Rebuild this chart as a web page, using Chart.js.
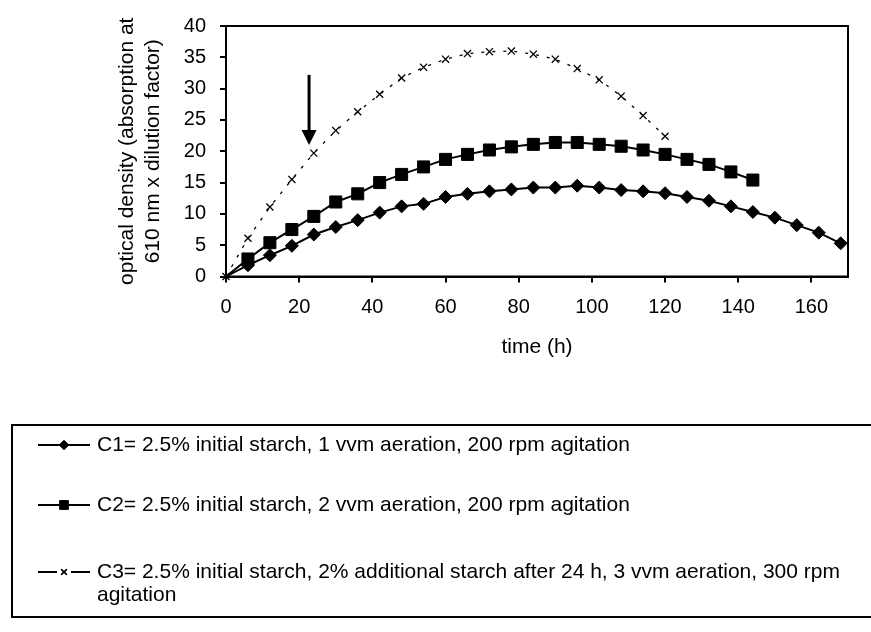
<!DOCTYPE html>
<html>
<head>
<meta charset="utf-8">
<title>Optical density vs time</title>
<script src="https://cdn.jsdelivr.net/npm/chart.js@4.4.1/dist/chart.umd.min.js"></script>
<style>
  html, body { margin: 0; padding: 0; background: #fff; }
  #wrap { width: 871px; height: 632px; position: relative; }
</style>
</head>
<body>
<div id="wrap"><canvas id="chart"></canvas></div>
<script>
// sampling times (h), every 6 h
const times = [0, 6, 12, 18, 24, 30, 36, 42, 48, 54, 60, 66, 72, 78, 84, 90, 96,
  102, 108, 114, 120, 126, 132, 138, 144, 150, 156, 162, 168];

// optical density (absorption at 610 nm x dilution factor)
const c1 = [0, 1.8, 3.4, 4.9, 6.7, 7.9, 9.0, 10.2, 11.2, 11.6, 12.7, 13.2, 13.6, 13.9, 14.2,
  14.2, 14.5, 14.2, 13.8, 13.6, 13.3, 12.7, 12.1, 11.2, 10.3, 9.4, 8.2, 7.0, 5.3];
const c2 = [0, 2.8, 5.4, 7.5, 9.6, 11.9, 13.2, 15.0, 16.3, 17.5, 18.7, 19.5, 20.2, 20.7, 21.1,
  21.4, 21.4, 21.1, 20.8, 20.2, 19.5, 18.7, 17.9, 16.7, 15.4];
const c3 = [0, 6.1, 11.1, 15.5, 19.7, 23.3, 26.3, 29.1, 31.7, 33.4, 34.7, 35.6, 35.9, 36.0,
  35.5, 34.7, 33.2, 31.4, 28.8, 25.7, 22.4];

const seriesLabels = [
  "C1= 2.5% initial starch, 1 vvm aeration, 200 rpm agitation",
  "C2= 2.5% initial starch, 2 vvm aeration, 200 rpm agitation",
  "C3= 2.5% initial starch, 2% additional starch after 24 h, 3 vvm aeration, 300 rpm agitation"
];
const yTitle = ["optical density (absorption at", "610 nm x dilution factor)"];
const xTitle = "time (h)";

// arrow marking the starch addition (time, from-value, to-value)
const arrowAt = 22.7;
const arrowFrom = 32.2;
const arrowTo = 21;

const FONT = "Liberation Sans, Arial, sans-serif";
const tickSize = 20;
const textSize = 21;

function pts(values) {
  return values.map((v, i) => ({ x: times[i], y: v }));
}

const styles = [
  { pointStyle: "rectRot", pointRadius: 6.5, borderWidth: 2, borderDash: [] },
  { pointStyle: "rect", pointRadius: 8.5, borderWidth: 2, borderDash: [] },
  { pointStyle: "crossRot", pointRadius: 5, borderWidth: 1.3, borderDash: [3, 8] }
];

const datasets = [c1, c2, c3].map((vals, i) => ({
  label: seriesLabels[i],
  data: pts(vals),
  showLine: true,
  borderColor: "#000",
  backgroundColor: "#000",
  borderWidth: styles[i].borderWidth,
  borderDash: styles[i].borderDash,
  pointStyle: styles[i].pointStyle,
  // the origin point of C1/C2 sits under the C3 cross, no marker there
  pointRadius: ctx => (i < 2 && ctx.dataIndex === 0) ? 0 : styles[i].pointRadius,
  pointBorderWidth: i === 2 ? 1.3 : 1,
  pointBorderColor: "#000",
  pointBackgroundColor: "#000",
  tension: 0,
  clip: i === 2 ? false : undefined,
  order: 2 - i
}));

// plot frame under the series, then arrow, rotated y title and the boxed legend
const extras = {
  id: "extras",
  beforeDatasetsDraw(chart) {
    const ctx = chart.ctx;
    const a = chart.chartArea;
    ctx.save();
    ctx.strokeStyle = "#000";
    ctx.lineWidth = 2;
    ctx.strokeRect(a.left, a.top, a.right - a.left, a.bottom - a.top);
    ctx.restore();
  },
  afterDraw(chart) {
    const ctx = chart.ctx;
    const a = chart.chartArea;
    const xs = chart.scales.x, ys = chart.scales.y;
    ctx.save();
    ctx.strokeStyle = "#000";

    // arrow
    const ax = xs.getPixelForValue(arrowAt);
    const y0 = ys.getPixelForValue(arrowFrom);
    const y1 = ys.getPixelForValue(arrowTo);
    ctx.lineWidth = 3;
    ctx.beginPath();
    ctx.moveTo(ax, y0);
    ctx.lineTo(ax, y1 - 12);
    ctx.stroke();
    ctx.fillStyle = "#000";
    ctx.beginPath();
    ctx.moveTo(ax - 7.5, y1 - 15);
    ctx.lineTo(ax + 7.5, y1 - 15);
    ctx.lineTo(ax, y1);
    ctx.closePath();
    ctx.fill();

    // y axis title
    ctx.font = textSize + "px " + FONT;
    ctx.textAlign = "center";
    ctx.textBaseline = "middle";
    ctx.save();
    ctx.translate(127, (a.top + a.bottom) / 2);
    ctx.rotate(-Math.PI / 2);
    ctx.fillText(yTitle[0], 0, 0);
    ctx.fillText(yTitle[1], 0, 26);
    ctx.restore();

    // legend box
    ctx.lineWidth = 2;
    ctx.strokeRect(12, 425, 870, 192);
    const rows = [445, 505, 572];
    ctx.textAlign = "left";
    chart.data.datasets.forEach((ds, i) => {
      const y = rows[i];
      ctx.lineWidth = 2;
      ctx.beginPath();
      if (i === 2) {
        ctx.moveTo(38, y); ctx.lineTo(57, y);
        ctx.moveTo(71, y); ctx.lineTo(90, y);
      } else {
        ctx.moveTo(38, y); ctx.lineTo(90, y);
      }
      ctx.stroke();
      ctx.lineWidth = i === 2 ? 1.3 : 1;
      Chart.helpers.drawPoint(ctx, {
        pointStyle: ds.pointStyle,
        radius: i === 0 ? 4.5 : (i === 1 ? 6 : 4),
        rotation: 0,
        borderWidth: ctx.lineWidth
      }, 64, y);
      ctx.fill();
      ctx.stroke();
      if (i === 2) {
        const cut = ds.label.lastIndexOf(" agitation");
        ctx.fillText(ds.label.slice(0, cut), 97, y);
        ctx.fillText(ds.label.slice(cut + 1), 97, y + 23);
      } else {
        ctx.fillText(ds.label, 97, y);
      }
    });
    ctx.restore();
  }
};

new Chart(document.getElementById("chart"), {
  type: "scatter",
  data: { datasets },
  options: {
    responsive: true,
    maintainAspectRatio: false,
    animation: false,
    layout: { padding: { top: 20, right: 23, bottom: 272, left: 0 } },
    scales: {
      x: {
        type: "linear",
        min: 0,
        max: 170,
        afterFit: s => { s.height = 83.5; },
        ticks: {
          stepSize: 20,
          includeBounds: false,
          color: "#000",
          padding: 13,
          font: { family: FONT, size: tickSize }
        },
        grid: { drawOnChartArea: false, tickLength: 6, color: "#000", lineWidth: 2 },
        border: { color: "#000", width: 2 },
        title: {
          display: true,
          text: xTitle,
          color: "#000",
          font: { family: FONT, size: textSize },
          padding: 0
        }
      },
      y: {
        min: 0,
        max: 40,
        afterFit: s => { s.width = 226; },
        ticks: {
          stepSize: 5,
          color: "#000",
          padding: 14,
          font: { family: FONT, size: tickSize }
        },
        grid: { drawOnChartArea: false, tickLength: 6, color: "#000", lineWidth: 2 },
        border: { color: "#000", width: 2 }
      }
    },
    plugins: {
      legend: { display: false },
      tooltip: { enabled: false }
    }
  },
  plugins: [extras]
});
</script>
</body>
</html>
